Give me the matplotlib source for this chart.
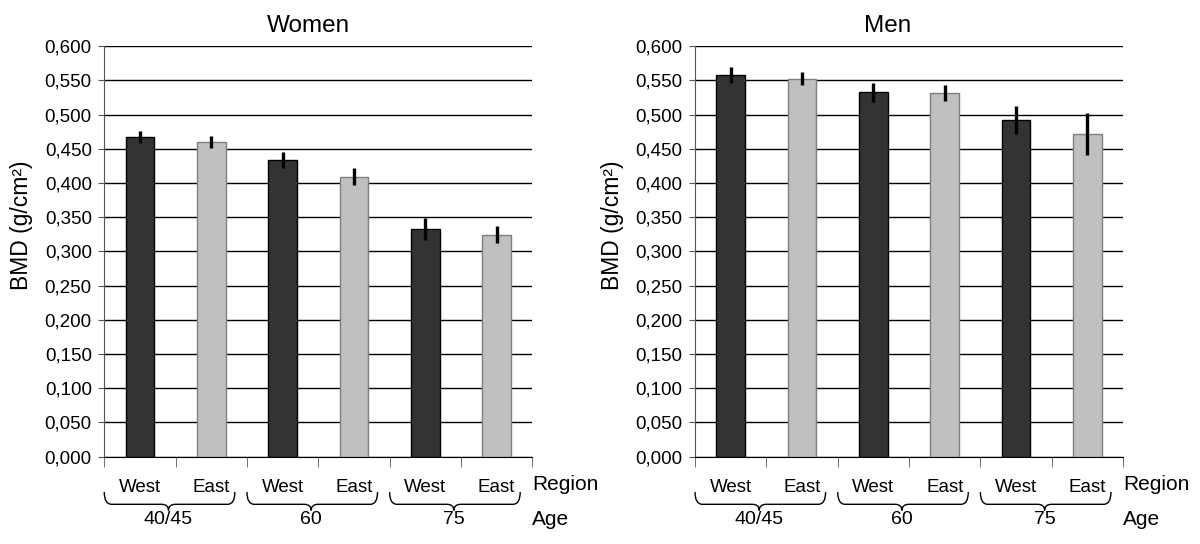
import matplotlib
matplotlib.use("Agg")
import matplotlib.pyplot as plt
import matplotlib.transforms as mtransforms
from matplotlib.path import Path
from matplotlib.patches import PathPatch
import numpy as np

regions = ["West", "East", "West", "East", "West", "East"]
ages = ["40/45", "60", "75"]
yticks = [0.0, 0.05, 0.10, 0.15, 0.20, 0.25, 0.30, 0.35, 0.40, 0.45, 0.50, 0.55, 0.60]

women = [0.467, 0.460, 0.434, 0.4095, 0.333, 0.3247]
women_err = [0.0085, 0.009, 0.0115, 0.013, 0.016, 0.013]
men = [0.558, 0.5527, 0.5327, 0.532, 0.4923, 0.4718]
men_err = [0.012, 0.009, 0.014, 0.012, 0.021, 0.031]

narrow = ["Liberation Sans Narrow", "Liberation Sans", "DejaVu Sans"]
plt.rcParams["font.family"] = ["Liberation Sans", "DejaVu Sans"]

bar_colors = ["#333333", "#c0c0c0"] * 3
edge_colors = ["#000000", "#7f7f7f"] * 3


def brace(ax, x0, x1, xtip):
    trans = mtransforms.blended_transform_factory(ax.transData, ax.transAxes)
    ytop, ymid, ybot = -0.086, -0.116, -0.131
    r = 0.1
    verts = [
        (x0, ytop), (x0, ymid), (x0 + r, ymid),
        (xtip - r, ymid),
        (xtip, ymid), (xtip, ybot),
        (xtip, ymid), (xtip + r, ymid),
        (x1 - r, ymid),
        (x1, ymid), (x1, ytop),
    ]
    codes = [Path.MOVETO, Path.CURVE3, Path.CURVE3,
             Path.LINETO,
             Path.CURVE3, Path.CURVE3,
             Path.CURVE3, Path.CURVE3,
             Path.LINETO,
             Path.CURVE3, Path.CURVE3]
    ax.add_patch(PathPatch(Path(verts, codes), transform=trans, fill=False,
                           lw=1.0, color="black", clip_on=False))


def panel(ax, title, vals, errs, title_x):
    x = np.arange(len(vals))
    ax.set_axisbelow(True)
    ax.bar(x, vals, width=0.4, color=bar_colors, edgecolor=edge_colors,
           linewidth=1.0, zorder=2)
    ax.errorbar(x, vals, yerr=errs, fmt="none", ecolor="black",
                elinewidth=2.4, capsize=0, zorder=3)
    ax.set_xlim(-0.5, 5.5)
    ax.set_ylim(0, 0.6)
    ax.set_yticks(yticks)
    ax.set_yticklabels([("%.3f" % v).replace(".", ",") for v in yticks],
                       family=narrow, fontsize=13.5)
    ax.yaxis.grid(True, color="black", lw=1.0)
    ax.tick_params(axis="y", length=4, color="#555555", pad=5)

    ax.set_xticks(x)
    ax.set_xticklabels(regions, family=narrow, fontsize=13.5)
    ax.set_xticks(np.arange(-0.5, 6, 1.0), minor=True)
    ax.tick_params(axis="x", which="major", length=0, pad=16)
    ax.tick_params(axis="x", which="minor", length=7, color="#555555")

    for s in ["top", "right"]:
        ax.spines[s].set_visible(False)
    ax.spines["left"].set_color("#555555")
    ax.spines["bottom"].set_color("black")

    ax.set_ylabel("BMD (g/cm²)", fontsize=16.5)
    ax.yaxis.set_label_coords(-0.167, 0.565)
    ax.set_title(title, fontsize=17.5, x=title_x, pad=10)

    tr = mtransforms.blended_transform_factory(ax.transData, ax.transAxes)
    for g in range(3):
        brace(ax, 2 * g - 0.5, 2 * g + 1.33, 2 * g + 0.4)
        ax.text(2 * g + 0.4, -0.152, ages[g], transform=tr,
                ha="center", va="center", fontsize=14, family=narrow)
    ax.text(1.0, -0.068, "Region", transform=ax.transAxes, ha="left", va="center", fontsize=15)
    ax.text(1.0, -0.152, "Age", transform=ax.transAxes, ha="left", va="center", fontsize=15)


fig = plt.figure(figsize=(12, 5.44), dpi=100)
ax1 = fig.add_axes([0.0869, 0.1605, 0.3567, 0.7544])
ax2 = fig.add_axes([0.5792, 0.1605, 0.3567, 0.7544])
panel(ax1, "Women", women, women_err, 0.478)
panel(ax2, "Men", men, men_err, 0.45)

fig.savefig("out.png", dpi=100)
